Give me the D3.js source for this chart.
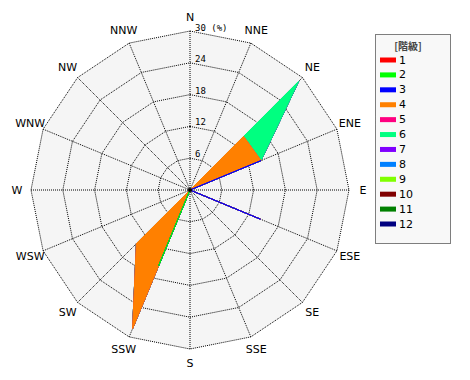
<!DOCTYPE html>
<html><head><meta charset="utf-8">
<script src="https://cdn.jsdelivr.net/npm/d3@7"></script>
<style>body{margin:0;background:#fff}svg{display:block}</style>
</head><body>
<script>
const directions = ["N","NNE","NE","ENE","E","ESE","SE","SSE","S","SSW","SW","WSW","W","WNW","NW","NNW"];
const classes = ["1","2","3","4","5","6","7","8","9","10","11","12"];
const classColors = ["#ff0000","#00ff00","#0000ff","#ff8000","#ff0080","#00ff80","#8000ff","#0080ff","#80ff00","#800000","#008000","#000080"];
const ringTicks = [6,12,18,24];
const maxValue = 30;
// per-class frequency (%) by direction, N..NNW
const class1  = [0,0,0,0,0,0,0,0,0,0,0,0,0,0,0,0];
const class2  = [0,0,0,0,0,0,0,0,0,15.5,0,0,0,0,0,0];
const class3  = [0,0,0,14.5,0,14.4,0,0,0,0,0,0,0,0,0,0];
const class4  = [0,0,14.3,0,0,0,0,0,0,12.8,14.3,0,0,0,0,0];
const class5  = [0,0,0,0,0,0,0,0,0,0,0,0,0,0,0,0];
const class6  = [0,0,14.7,0,0,0,0,0,0,0,0,0,0,0,0,0];
const class7  = [0,0,0,0,0,0,0,0,0,0,0,0,0,0,0,0];
const class8  = [0,0,0,0,0,0,0,0,0,0,0,0,0,0,0,0];
const class9  = [0,0,0,0,0,0,0,0,0,0,0,0,0,0,0,0];
const class10 = [0,0,0,0,0,0,0,0,0,0,0,0,0,0,0,0];
const class11 = [0,0,0,0,0,0,0,0,0,0,0,0,0,0,0,0];
const class12 = [0,0,0,0,0,0,0,0,0,0,0,0,0,0,0,0];
const classValues = [class1,class2,class3,class4,class5,class6,class7,class8,class9,class10,class11,class12];

const W = 470, H = 380, cx = 190, cy = 190, R = 159;
const svg = d3.select("body").append("svg").attr("width", W).attr("height", H);

const r = d3.scaleLinear().domain([0, maxValue]).range([0, R]);
const ang = d3.scalePoint().domain(directions).range([0, 2*Math.PI*(15/16)]);
const g = svg.append("g").attr("transform", `translate(${cx},${cy})`);

const ringLine = v => d3.lineRadial().angle(d => ang(d)).radius(() => r(v)).curve(d3.curveLinearClosed)(directions);

// background
g.append("path").attr("d", ringLine(maxValue)).attr("fill", "#f5f5f5").attr("stroke", "none");

// stacked data
const table = directions.map((d, i) => { const o = {dir: d}; classes.forEach((c, k) => o[c] = classValues[k][i]); return o; });
const stack = d3.stack().keys(classes)(table);

// grid rings and spokes
const grid = g.append("g").attr("stroke", "#000").attr("stroke-dasharray", "1,1").attr("fill", "none").attr("stroke-width", 1);
[...ringTicks, maxValue].forEach(v => grid.append("path").attr("d", ringLine(v)));
directions.forEach(d => {
  const a = ang(d);
  grid.append("line").attr("x1", 0).attr("y1", 0)
    .attr("x2", r(maxValue) * Math.sin(a)).attr("y2", -r(maxValue) * Math.cos(a));
});

// areas drawn from outermost (12) to innermost (1)
const area = d3.lineRadial().angle((d, i) => ang(directions[i])).radius(d => r(d[1])).curve(d3.curveLinearClosed);
for (let k = stack.length - 1; k >= 0; k--) {
  g.append("path").attr("d", area(stack[k]))
    .attr("fill", classColors[k]).attr("stroke", classColors[k]).attr("stroke-width", 1)
    .attr("stroke-linejoin", "miter");
}
g.append("circle").attr("r", 2).attr("fill", "#000");

// ring labels
const font = "'DejaVu Sans', sans-serif";
const mono = "'DejaVu Sans Mono', monospace";
ringTicks.forEach(v => {
  svg.append("text").attr("x", cx + 5).attr("y", cy - r(v) - 1)
    .attr("font-family", mono).attr("font-size", 9).attr("fill", "#000").text(v);
});
svg.append("text").attr("x", cx + 5).attr("y", cy - r(maxValue))
  .attr("font-family", mono).attr("font-size", 9).attr("fill", "#000")
  .attr("xml:space", "preserve").text(maxValue + " (%)");

// direction labels
directions.forEach(d => {
  const a = ang(d), rr = R + 14;
  svg.append("text").attr("x", cx + rr * Math.sin(a)).attr("y", cy - rr * Math.cos(a))
    .attr("text-anchor", "middle").attr("dominant-baseline", "central")
    .attr("font-family", font).attr("font-size", 11).attr("fill", "#000").text(d);
});

// legend
const lg = svg.append("g");
lg.append("rect").attr("x", 375.5).attr("y", 34.5).attr("width", 75).attr("height", 209)
  .attr("fill", "#f8f8f8").attr("stroke", "#000").attr("stroke-dasharray", "1,1");
lg.append("text").attr("x", 408).attr("y", 45).attr("text-anchor", "middle").attr("dominant-baseline", "central")
  .attr("font-family", "'Noto Sans CJK JP', sans-serif").attr("font-size", 10).attr("font-weight", "bold")
  .attr("fill", "#444").text("[階級]");
const ly = d3.scaleLinear().domain([0, 11]).range([60, 224]);
classes.forEach((c, k) => {
  lg.append("rect").attr("x", 380).attr("y", ly(k) - 2.5).attr("width", 16).attr("height", 5).attr("fill", classColors[k]);
  lg.append("text").attr("x", 399).attr("y", ly(k)).attr("dominant-baseline", "central")
    .attr("font-family", font).attr("font-size", 11).attr("fill", "#000").text(c);
});
</script>
</body></html>
